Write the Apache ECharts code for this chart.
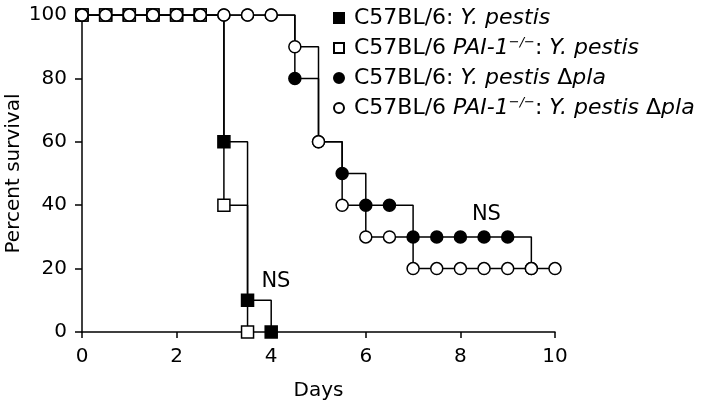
<!DOCTYPE html>
<html><head><meta charset="utf-8">
<script src="https://cdn.jsdelivr.net/npm/echarts@6/dist/echarts.min.js"></script>
<style>html,body{margin:0;padding:0;background:#fff}#c{width:709px;height:406px}</style>
</head><body><div id="c"></div>
<script>
// Data
const xTicks = [0, 2, 4, 6, 8, 10];
const yTicks = [0, 20, 40, 60, 80, 100];
const seriesNames = ['wtPestis', 'paiPestis', 'wtPla', 'paiPla'];
const wtPestisX = [0, 0.5, 1, 1.5, 2, 2.5, 3, 3.5, 4];
const wtPestisY = [100, 100, 100, 100, 100, 100, 60, 10, 0];
const paiPestisX = [0, 0.5, 1, 1.5, 2, 2.5, 3, 3.5];
const paiPestisY = [100, 100, 100, 100, 100, 100, 40, 0];
const wtPlaX = [0, 0.5, 1, 1.5, 2, 2.5, 3, 3.5, 4, 4.5, 5, 5.5, 6, 6.5, 7, 7.5, 8, 8.5, 9, 9.5];
const wtPlaY = [100, 100, 100, 100, 100, 100, 100, 100, 100, 80, 60, 50, 40, 40, 30, 30, 30, 30, 30, 20];
const paiPlaX = [0, 0.5, 1, 1.5, 2, 2.5, 3, 3.5, 4, 4.5, 5, 5.5, 6, 6.5, 7, 7.5, 8, 8.5, 9, 9.5, 10];
const paiPlaY = [100, 100, 100, 100, 100, 100, 100, 100, 100, 90, 60, 40, 30, 30, 20, 20, 20, 20, 20, 20, 20];
const nsX = [4.1, 8.55];
const nsY = [16, 37];
const nsText = ['NS', 'NS'];

const zip = (xs, ys) => xs.map((x, i) => [x, ys[i]]);
const FONT = 'DejaVu Sans';
const legendLabels = {
  wtPestis: 'C57BL/6: {i|Y. pestis}',
  paiPestis: 'C57BL/6 {i|PAI-1}{s|−/−}: {i|Y. pestis}',
  wtPla: 'C57BL/6: {i|Y. pestis} Δ{i|pla}',
  paiPla: 'C57BL/6 {i|PAI-1}{s|−/−}: {i|Y. pestis} Δ{i|pla}'
};
function mk(name, xs, ys, symbol, filled, z) {
  return {
    name: name, type: 'line', step: 'end', data: zip(xs, ys),
    symbol: symbol, symbolSize: 12, showAllSymbol: true, z: z,
    lineStyle: { color: '#000', width: 1.5 },
    itemStyle: { color: filled ? '#000' : '#fff', borderColor: '#000', borderWidth: 1.5 },
    emphasis: { disabled: true }, animation: false
  };
}
const chart = echarts.init(document.getElementById('c'), null, { renderer: 'canvas' });
chart.setOption({
  animation: false,
  grid: { left: 82, right: 154, top: 15, bottom: 74, containLabel: false, outerBoundsMode: 'none' },
  legend: {
    orient: 'vertical', left: 333, top: 6, itemGap: 6,
    itemWidth: 10, itemHeight: 10, padding: 0,
    data: [
      { name: 'wtPestis', icon: 'rect' },
      { name: 'paiPestis', icon: 'rect' },
      { name: 'wtPla', icon: 'circle' },
      { name: 'paiPla', icon: 'circle' }
    ],
    formatter: n => legendLabels[n],
    textStyle: {
      fontFamily: FONT, fontSize: 22, color: '#000', lineHeight: 24, padding: [0, 0, 0, 5],
      rich: {
        i: { fontFamily: FONT, fontSize: 22, fontStyle: 'italic', color: '#000', lineHeight: 24 },
        s: { fontFamily: FONT, fontSize: 13, fontStyle: 'italic', color: '#000', padding: [0, 0, 10, 0] }
      }
    },
    selectedMode: false
  },
  xAxis: {
    type: 'value', min: 0, max: 10, interval: 2,
    name: 'Days', nameLocation: 'middle', nameGap: 49, nameMoveOverlap: false,
    nameTextStyle: { fontFamily: FONT, fontSize: 20, color: '#000' },
    axisLine: { lineStyle: { color: '#000', width: 1.5 } },
    axisTick: { length: 6, lineStyle: { color: '#000', width: 1.5 } },
    axisLabel: { fontFamily: FONT, fontSize: 20, color: '#000', margin: 15, formatter: v => String(v) },
    splitLine: { show: false }
  },
  yAxis: {
    type: 'value', min: 0, max: 100, interval: 20,
    name: 'Percent survival', nameLocation: 'middle', nameGap: 58, nameMoveOverlap: false,
    nameTextStyle: { fontFamily: FONT, fontSize: 20, color: '#000' },
    axisLine: { show: true, lineStyle: { color: '#000', width: 1.5 } },
    axisTick: { show: true, length: 7, lineStyle: { color: '#000', width: 1.5 } },
    axisLabel: { fontFamily: FONT, fontSize: 20, color: '#000', margin: 15 },
    splitLine: { show: false }
  },
  series: [
    mk('wtPestis', wtPestisX, wtPestisY, 'rect', true, 2),
    mk('paiPestis', paiPestisX, paiPestisY, 'rect', false, 3),
    mk('wtPla', wtPlaX, wtPlaY, 'circle', true, 4),
    mk('paiPla', paiPlaX, paiPlaY, 'circle', false, 5),
    {
      type: 'scatter', data: zip(nsX, nsY), symbolSize: 0, z: 6,
      itemStyle: { opacity: 1 },
      label: { show: true, position: 'inside', formatter: p => nsText[p.dataIndex],
        fontFamily: FONT, fontSize: 21, color: '#000', textBorderWidth: 0, opacity: 1 },
      silent: true
    }
  ]
});
</script></body></html>
